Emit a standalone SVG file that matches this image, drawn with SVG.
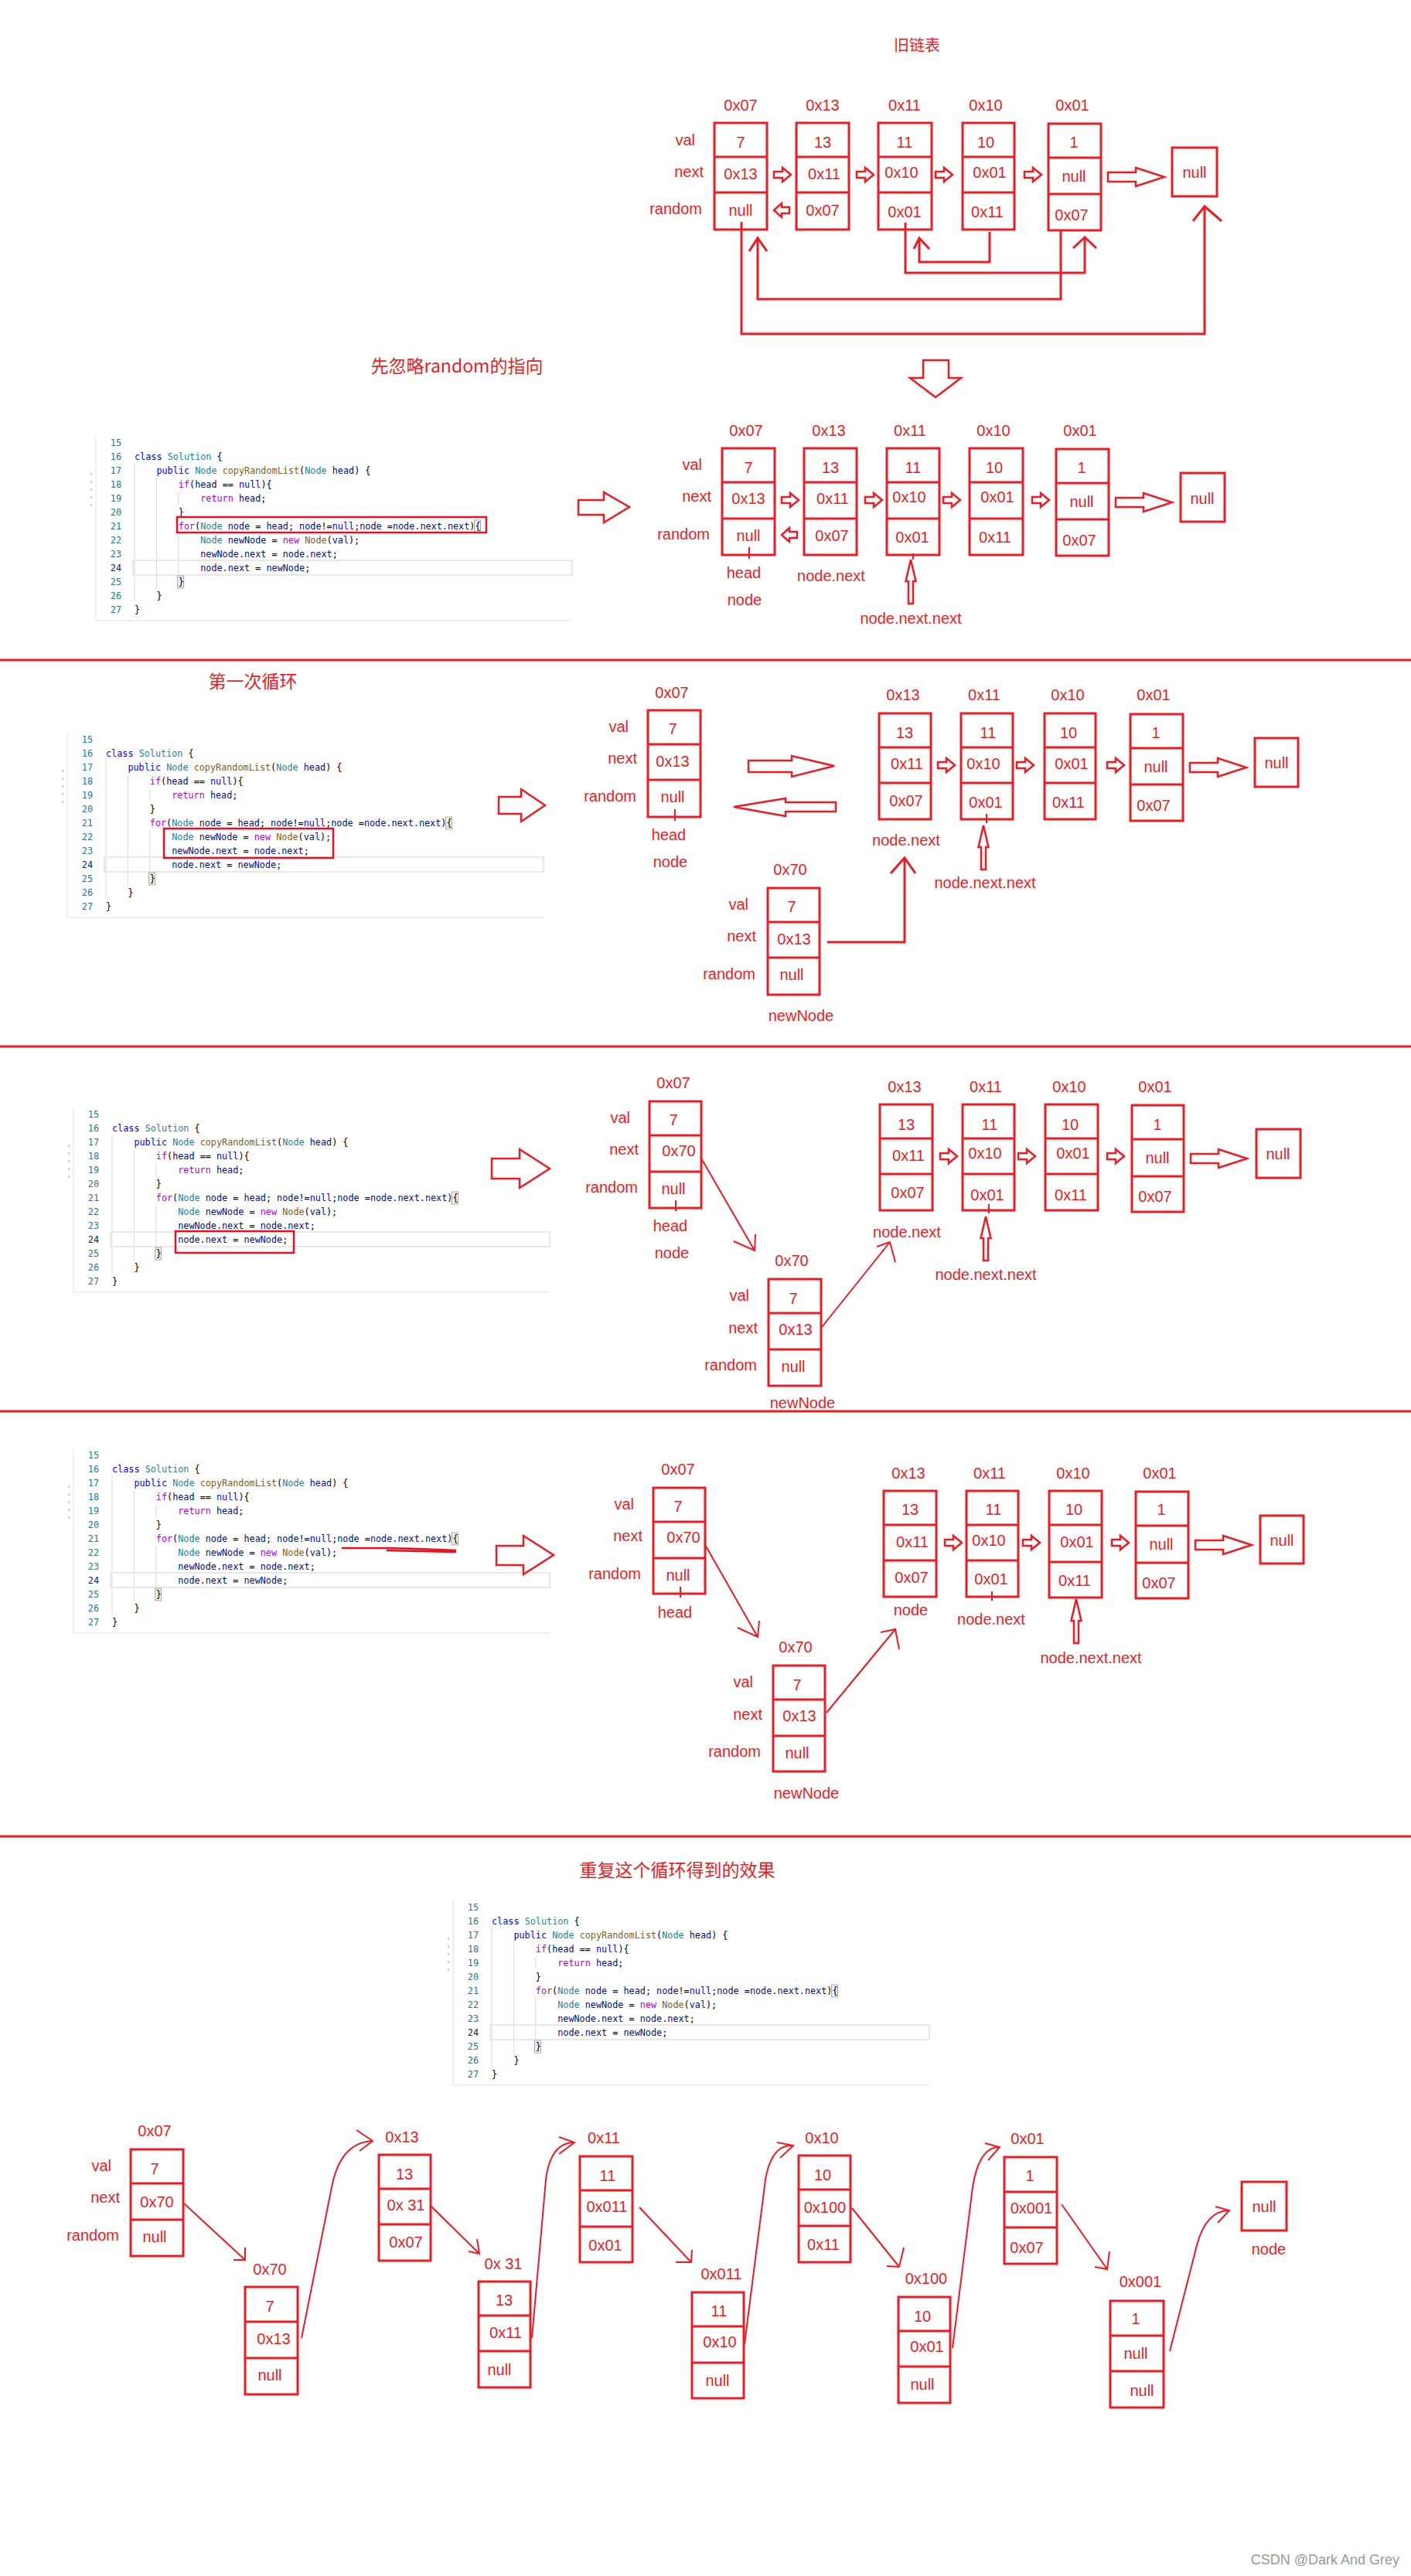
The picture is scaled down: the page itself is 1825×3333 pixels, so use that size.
<svg xmlns="http://www.w3.org/2000/svg" xmlns:xlink="http://www.w3.org/1999/xlink" width="1825" height="3333" viewBox="0 0 1825 3333">
<style>
.bx{fill:none;stroke:#ed1c24;stroke-width:3}
.ln{fill:none;stroke:#ed1c24;stroke-width:3}
.th{fill:none;stroke:#ed1c24;stroke-width:2}
.ar{fill:none;stroke:#ed1c24;stroke-width:2.5;stroke-linejoin:miter}
.sep{stroke:#ed1c24;stroke-width:3}
.t{font-family:"Liberation Sans","Noto Sans CJK SC",sans-serif;font-size:20px;fill:#ed1c24;text-anchor:middle}
.l{font-family:"Liberation Sans","Noto Sans CJK SC",sans-serif;font-size:20px;fill:#ed1c24;text-anchor:end}
.h{font-family:"Noto Sans CJK SC","Liberation Sans",sans-serif;font-size:23px;fill:#ed1c24;text-anchor:middle}
.c{font-family:"DejaVu Sans Mono","Liberation Mono",monospace;font-size:11.8px;fill:#001080}
.n{font-family:"DejaVu Sans Mono","Liberation Mono",monospace;font-size:11.8px;fill:#237893;text-anchor:end}
.kw{fill:#0000ff}.ty{fill:#267f99}.fn{fill:#795e26}.ct{fill:#af00db}.p{fill:#000}
</style>
<defs>
<path id="sa" class="ar" d="M0,-4H11V-9L22,0L11,9V4H0Z"/>
<path id="ba" class="ar" d="M0,-6H36V-12L73,0L36,12V6H0Z"/>
<path id="la" class="ar" d="M0,0L10,-9V-4H20V4H10V9Z"/>
<path id="ua" class="ar" d="M0,0L6.5,28H3V57H-3V28H-6.5Z"/>
<g id="code" xml:space="preserve">
<path d="M-50,-12V226H566" stroke="#ececec" stroke-width="1.5" fill="none"/>
<path d="M-56,35v3M-56,45v3M-56,55v3M-56,65v3M-56,75v3" stroke="#bbb" stroke-width="1.5"/>
<path d="M0,23V201M28.4,41V185M56.8,60V76M56.8,113V183" stroke="#d8d8d8" stroke-width="1"/>
<rect x="-2" y="148" width="568" height="19" fill="none" stroke="#e8e8e8" stroke-width="2"/>
<rect x="439.5" y="96" width="8" height="16" fill="#eee" stroke="#aaa" stroke-width="1"/>
<rect x="55.5" y="168" width="8" height="16" fill="#eee" stroke="#aaa" stroke-width="1"/>
<text class="n" x="-17" y="0">15</text>
<text class="n" x="-17" y="18">16</text>
<text class="n" x="-17" y="36">17</text>
<text class="n" x="-17" y="54">18</text>
<text class="n" x="-17" y="72">19</text>
<text class="n" x="-17" y="90">20</text>
<text class="n" x="-17" y="108">21</text>
<text class="n" x="-17" y="126">22</text>
<text class="n" x="-17" y="144">23</text>
<text class="n" x="-17" y="162" style="fill:#0b216f">24</text>
<text class="n" x="-17" y="180">25</text>
<text class="n" x="-17" y="198">26</text>
<text class="n" x="-17" y="216">27</text>
<text class="c" x="0" y="18"><tspan class="kw">class</tspan> <tspan class="ty">Solution</tspan> <tspan class="p">{</tspan></text>
<text class="c" x="28.4" y="36"><tspan class="kw">public</tspan> <tspan class="ty">Node</tspan> <tspan class="fn">copyRandomList</tspan><tspan class="p">(</tspan><tspan class="ty">Node</tspan> head<tspan class="p">) {</tspan></text>
<text class="c" x="56.8" y="54"><tspan class="ct">if</tspan><tspan class="p">(</tspan>head <tspan class="p">==</tspan> <tspan class="kw">null</tspan><tspan class="p">){</tspan></text>
<text class="c" x="85.2" y="72"><tspan class="ct">return</tspan> head<tspan class="p">;</tspan></text>
<text class="c p" x="56.8" y="90">}</text>
<text class="c" x="56.8" y="108"><tspan class="ct">for</tspan><tspan class="p">(</tspan><tspan class="ty">Node</tspan> node <tspan class="p">=</tspan> head<tspan class="p">;</tspan> node<tspan class="p">!=</tspan><tspan class="kw">null</tspan><tspan class="p">;</tspan>node <tspan class="p">=</tspan>node.next.next<tspan class="p">){</tspan></text>
<text class="c" x="85.2" y="126"><tspan class="ty">Node</tspan> newNode <tspan class="p">=</tspan> <tspan class="ct">new</tspan> <tspan class="fn">Node</tspan><tspan class="p">(</tspan>val<tspan class="p">);</tspan></text>
<text class="c" x="85.2" y="144">newNode.next <tspan class="p">=</tspan> node.next<tspan class="p">;</tspan></text>
<text class="c" x="85.2" y="162">node.next <tspan class="p">=</tspan> newNode<tspan class="p">;</tspan></text>
<text class="c p" x="56.8" y="180">}</text>
<text class="c p" x="28.4" y="198">}</text>
<text class="c p" x="0" y="216">}</text>
</g>
</defs>
<rect x="0" y="0" width="1825" height="3333" fill="#fff"/>

<g id="separators">
<line class="sep" x1="0" y1="854" x2="1825" y2="854"/>
<line class="sep" x1="0" y1="1354" x2="1825" y2="1354"/>
<line class="sep" x1="0" y1="1826" x2="1825" y2="1826"/>
<line class="sep" x1="0" y1="2376" x2="1825" y2="2376"/>
</g>

<!-- ===== Section 1 ===== -->
<g id="s1-title"><text class="t" x="1186" y="66">旧链表</text></g>
<g id="s1-rowlabels">
<text class="l" x="899" y="188">val</text>
<text class="l" x="910" y="229">next</text>
<text class="l" x="908" y="277">random</text>
</g>
<g id="s1-n1"><rect class="bx" x="924" y="159" width="68" height="138"/><path class="bx" d="M924,203H992M924,249H992"/>
<text class="t" x="958" y="143">0x07</text><text class="t" x="958" y="191">7</text><text class="t" x="958" y="232">0x13</text><text class="t" x="958" y="279">null</text></g>
<g id="s1-n2"><rect class="bx" x="1030" y="159" width="68" height="138"/><path class="bx" d="M1030,203H1098M1030,249H1098"/>
<text class="t" x="1064" y="143">0x13</text><text class="t" x="1064" y="191">13</text><text class="t" x="1066" y="232">0x11</text><text class="t" x="1064" y="279">0x07</text></g>
<g id="s1-n3"><rect class="bx" x="1136" y="159" width="69" height="138"/><path class="bx" d="M1136,203H1205M1136,249H1205"/>
<text class="t" x="1170" y="143">0x11</text><text class="t" x="1170" y="191">11</text><text class="t" x="1166" y="230">0x10</text><text class="t" x="1170" y="281">0x01</text></g>
<g id="s1-n4"><rect class="bx" x="1245" y="159" width="67" height="138"/><path class="bx" d="M1245,203H1312M1245,249H1312"/>
<text class="t" x="1275" y="143">0x10</text><text class="t" x="1275" y="191">10</text><text class="t" x="1280" y="230">0x01</text><text class="t" x="1277" y="281">0x11</text></g>
<g id="s1-n5"><rect class="bx" x="1356" y="160" width="68" height="138"/><path class="bx" d="M1356,204H1424M1356,251H1424"/>
<text class="t" x="1387" y="143">0x01</text><text class="t" x="1389" y="191">1</text><text class="t" x="1389" y="235">null</text><text class="t" x="1386" y="285">0x07</text></g>
<g id="s1-null"><rect class="bx" x="1516" y="191" width="58" height="63"/><text class="t" x="1545" y="230">null</text></g>
<g id="s1-down"><path class="ar" d="M1194,466H1227V489H1243L1210,514L1177,489H1194Z"/></g>

<!-- ===== Section 2 ===== -->
<g id="s2-title"><text class="h" x="591" y="482">先忽略random的指向</text></g>
<g id="s2-code"><use href="#code" x="174" y="577"/><rect x="229" y="669" width="400" height="20" fill="none" stroke="#e81123" stroke-width="2.5"/></g>
<g id="s2-rowlabels">
<text class="l" x="908" y="608">val</text>
<text class="l" x="920" y="649">next</text>
<text class="l" x="918" y="698">random</text>
</g>
<g id="s2-n1"><rect class="bx" x="934" y="580" width="68" height="138"/><path class="bx" d="M934,624H1002M934,671H1002"/>
<text class="t" x="965" y="564">0x07</text><text class="t" x="968" y="612">7</text><text class="t" x="968" y="652">0x13</text><text class="t" x="968" y="700">null</text></g>
<g id="s2-n2"><rect class="bx" x="1040" y="580" width="68" height="138"/><path class="bx" d="M1040,624H1108M1040,671H1108"/>
<text class="t" x="1072" y="564">0x13</text><text class="t" x="1074" y="612">13</text><text class="t" x="1077" y="652">0x11</text><text class="t" x="1076" y="700">0x07</text></g>
<g id="s2-n3"><rect class="bx" x="1147" y="580" width="68" height="138"/><path class="bx" d="M1147,624H1215M1147,671H1215"/>
<text class="t" x="1177" y="564">0x11</text><text class="t" x="1181" y="612">11</text><text class="t" x="1176" y="650">0x10</text><text class="t" x="1180" y="702">0x01</text></g>
<g id="s2-n4"><rect class="bx" x="1254" y="580" width="69" height="138"/><path class="bx" d="M1254,624H1323M1254,671H1323"/>
<text class="t" x="1285" y="564">0x10</text><text class="t" x="1286" y="612">10</text><text class="t" x="1290" y="650">0x01</text><text class="t" x="1287" y="702">0x11</text></g>
<g id="s2-n5"><rect class="bx" x="1366" y="581" width="68" height="138"/><path class="bx" d="M1366,625H1434M1366,672H1434"/>
<text class="t" x="1397" y="564">0x01</text><text class="t" x="1399" y="612">1</text><text class="t" x="1399" y="656">null</text><text class="t" x="1396" y="706">0x07</text></g>
<g id="s2-null"><rect class="bx" x="1527" y="612" width="57" height="63"/><text class="t" x="1555" y="652">null</text></g>
<g id="s2-pointers">
<text class="t" x="962" y="748">head</text>
<text class="t" x="963" y="783">node</text>
<text class="t" x="1075" y="752">node.next</text>
<text class="t" x="1178" y="807">node.next.next</text>
</g>

<!-- ===== Section 3 ===== -->
<g id="s3-title"><text class="h" x="327" y="890">第一次循环</text></g>
<g id="s3-code"><use href="#code" x="137" y="961"/><rect x="212" y="1072" width="219" height="38" fill="none" stroke="#e81123" stroke-width="2.5"/></g>
<g id="s3-head"><rect class="bx" x="838" y="919" width="68" height="138"/><path class="bx" d="M838,963H906M838,1009H906"/>
<text class="t" x="869" y="903">0x07</text><text class="t" x="870" y="950">7</text><text class="t" x="870" y="992">0x13</text><text class="t" x="870" y="1038">null</text>
<text class="l" x="813" y="947">val</text><text class="l" x="824" y="988">next</text><text class="l" x="823" y="1037">random</text>
<text class="t" x="865" y="1087">head</text><text class="t" x="867" y="1122">node</text></g>
<g id="s3-n2"><rect class="bx" x="1137" y="923" width="67" height="137"/><path class="bx" d="M1137,967H1204M1137,1013H1204"/>
<text class="t" x="1168" y="906">0x13</text><text class="t" x="1170" y="955">13</text><text class="t" x="1173" y="995">0x11</text><text class="t" x="1172" y="1043">0x07</text></g>
<g id="s3-n3"><rect class="bx" x="1243" y="923" width="67" height="137"/><path class="bx" d="M1243,967H1310M1243,1013H1310"/>
<text class="t" x="1273" y="906">0x11</text><text class="t" x="1278" y="955">11</text><text class="t" x="1272" y="995">0x10</text><text class="t" x="1275" y="1045">0x01</text></g>
<g id="s3-n4"><rect class="bx" x="1351" y="923" width="66" height="137"/><path class="bx" d="M1351,967H1417M1351,1013H1417"/>
<text class="t" x="1381" y="906">0x10</text><text class="t" x="1382" y="955">10</text><text class="t" x="1386" y="995">0x01</text><text class="t" x="1382" y="1045">0x11</text></g>
<g id="s3-n5"><rect class="bx" x="1462" y="924" width="68" height="138"/><path class="bx" d="M1462,968H1530M1462,1015H1530"/>
<text class="t" x="1492" y="906">0x01</text><text class="t" x="1495" y="955">1</text><text class="t" x="1495" y="999">null</text><text class="t" x="1492" y="1049">0x07</text></g>
<g id="s3-null"><rect class="bx" x="1623" y="955" width="56" height="63"/><text class="t" x="1651" y="994">null</text></g>
<g id="s3-new"><rect class="bx" x="993" y="1149" width="67" height="138"/><path class="bx" d="M993,1193H1060M993,1239H1060"/>
<text class="t" x="1022" y="1132">0x70</text><text class="t" x="1024" y="1180">7</text><text class="t" x="1027" y="1222">0x13</text><text class="t" x="1024" y="1268">null</text>
<text class="l" x="968" y="1177">val</text><text class="l" x="978" y="1218">next</text><text class="l" x="977" y="1267">random</text>
<text class="t" x="1036" y="1321">newNode</text></g>
<g id="s3-pointers"><text class="t" x="1172" y="1094">node.next</text><text class="t" x="1274" y="1149">node.next.next</text></g>

<!-- ===== Section 4 ===== -->
<g id="s4-code"><use href="#code" x="145" y="1446"/><rect x="227" y="1593" width="153" height="28" fill="none" stroke="#e81123" stroke-width="2.5"/></g>
<g id="s4-head"><rect class="bx" x="840" y="1425" width="67" height="138"/><path class="bx" d="M840,1469H907M840,1516H907"/>
<text class="t" x="871" y="1408">0x07</text><text class="t" x="871" y="1456">7</text><text class="t" x="878" y="1496">0x70</text><text class="t" x="871" y="1545">null</text>
<text class="l" x="815" y="1453">val</text><text class="l" x="826" y="1494">next</text><text class="l" x="825" y="1543">random</text>
<text class="t" x="867" y="1593">head</text><text class="t" x="869" y="1628">node</text></g>
<g id="s4-new"><rect class="bx" x="994" y="1655" width="68" height="138"/><path class="bx" d="M994,1699H1062M994,1746H1062"/>
<text class="t" x="1024" y="1638">0x70</text><text class="t" x="1026" y="1687">7</text><text class="t" x="1029" y="1727">0x13</text><text class="t" x="1026" y="1775">null</text>
<text class="l" x="969" y="1683">val</text><text class="l" x="980" y="1725">next</text><text class="l" x="979" y="1773">random</text>
<text class="t" x="1038" y="1822">newNode</text></g>
<g id="s4-n2"><rect class="bx" x="1138" y="1429" width="68" height="137"/><path class="bx" d="M1138,1473H1206M1138,1519H1206"/>
<text class="t" x="1170" y="1413">0x13</text><text class="t" x="1172" y="1462">13</text><text class="t" x="1175" y="1502">0x11</text><text class="t" x="1174" y="1550">0x07</text></g>
<g id="s4-n3"><rect class="bx" x="1245" y="1429" width="67" height="137"/><path class="bx" d="M1245,1473H1312M1245,1519H1312"/>
<text class="t" x="1275" y="1413">0x11</text><text class="t" x="1280" y="1462">11</text><text class="t" x="1274" y="1499">0x10</text><text class="t" x="1277" y="1553">0x01</text></g>
<g id="s4-n4"><rect class="bx" x="1352" y="1429" width="68" height="137"/><path class="bx" d="M1352,1473H1420M1352,1519H1420"/>
<text class="t" x="1383" y="1413">0x10</text><text class="t" x="1384" y="1462">10</text><text class="t" x="1388" y="1499">0x01</text><text class="t" x="1385" y="1553">0x11</text></g>
<g id="s4-n5"><rect class="bx" x="1464" y="1430" width="67" height="138"/><path class="bx" d="M1464,1474H1531M1464,1522H1531"/>
<text class="t" x="1494" y="1413">0x01</text><text class="t" x="1497" y="1462">1</text><text class="t" x="1497" y="1505">null</text><text class="t" x="1494" y="1555">0x07</text></g>
<g id="s4-null"><rect class="bx" x="1625" y="1461" width="57" height="63"/><text class="t" x="1653" y="1500">null</text></g>
<g id="s4-pointers"><text class="t" x="1173" y="1601">node.next</text><text class="t" x="1275" y="1656">node.next.next</text></g>

<!-- ===== Section 5 ===== -->
<g id="s5-code"><use href="#code" x="145" y="1887"/><path d="M442,2003L500,2003L540,2004L590,2006M500,2006L590,2008" fill="none" stroke="#e81123" stroke-width="2.5"/></g>
<g id="s5-head"><rect class="bx" x="845" y="1925" width="67" height="137"/><path class="bx" d="M845,1969H912M845,2016H912"/>
<text class="t" x="877" y="1908">0x07</text><text class="t" x="877" y="1956">7</text><text class="t" x="884" y="1996">0x70</text><text class="t" x="877" y="2045">null</text>
<text class="l" x="820" y="1953">val</text><text class="l" x="831" y="1994">next</text><text class="l" x="829" y="2043">random</text>
<text class="t" x="873" y="2093">head</text></g>
<g id="s5-new"><rect class="bx" x="1000" y="2155" width="67" height="137"/><path class="bx" d="M1000,2199H1067M1000,2246H1067"/>
<text class="t" x="1029" y="2138">0x70</text><text class="t" x="1031" y="2187">7</text><text class="t" x="1034" y="2227">0x13</text><text class="t" x="1031" y="2275">null</text>
<text class="l" x="974" y="2183">val</text><text class="l" x="986" y="2225">next</text><text class="l" x="984" y="2273">random</text>
<text class="t" x="1043" y="2327">newNode</text></g>
<g id="s5-n2"><rect class="bx" x="1143" y="1929" width="68" height="137"/><path class="bx" d="M1143,1973H1211M1143,2019H1211"/>
<text class="t" x="1175" y="1913">0x13</text><text class="t" x="1177" y="1960">13</text><text class="t" x="1180" y="2002">0x11</text><text class="t" x="1179" y="2048">0x07</text></g>
<g id="s5-n3"><rect class="bx" x="1250" y="1929" width="67" height="137"/><path class="bx" d="M1250,1973H1317M1250,2019H1317"/>
<text class="t" x="1280" y="1913">0x11</text><text class="t" x="1285" y="1960">11</text><text class="t" x="1279" y="2000">0x10</text><text class="t" x="1282" y="2050">0x01</text></g>
<g id="s5-n4"><rect class="bx" x="1357" y="1929" width="68" height="138"/><path class="bx" d="M1357,1973H1425M1357,2021H1425"/>
<text class="t" x="1388" y="1913">0x10</text><text class="t" x="1389" y="1960">10</text><text class="t" x="1393" y="2002">0x01</text><text class="t" x="1390" y="2052">0x11</text></g>
<g id="s5-n5"><rect class="bx" x="1469" y="1930" width="68" height="138"/><path class="bx" d="M1469,1974H1537M1469,2022H1537"/>
<text class="t" x="1500" y="1913">0x01</text><text class="t" x="1502" y="1960">1</text><text class="t" x="1502" y="2005">null</text><text class="t" x="1499" y="2055">0x07</text></g>
<g id="s5-null"><rect class="bx" x="1630" y="1961" width="56" height="62"/><text class="t" x="1658" y="2000">null</text></g>
<g id="s5-pointers"><text class="t" x="1178" y="2090">node</text><text class="t" x="1282" y="2102">node.next</text><text class="t" x="1411" y="2152">node.next.next</text></g>

<!-- ===== Section 6 ===== -->
<g id="s6-title"><text class="h" x="876" y="2428">重复这个循环得到的效果</text></g>
<g id="s6-code"><use href="#code" x="636" y="2472"/></g>
<g id="s6-n1"><rect class="bx" x="169" y="2781" width="68" height="138"/><path class="bx" d="M169,2825H237M169,2872H237"/>
<text class="t" x="200" y="2764">0x07</text><text class="t" x="200" y="2813">7</text><text class="t" x="203" y="2856">0x70</text><text class="t" x="200" y="2901">null</text>
<text class="l" x="144" y="2809">val</text><text class="l" x="155" y="2850">next</text><text class="l" x="154" y="2899">random</text></g>
<g id="s6-n2"><rect class="bx" x="317" y="2959" width="68" height="139"/><path class="bx" d="M317,3004H385M317,3051H385"/>
<text class="t" x="349" y="2943">0x70</text><text class="t" x="349" y="2991">7</text><text class="t" x="354" y="3033">0x13</text><text class="t" x="349" y="3080">null</text></g>
<g id="s6-n3"><rect class="bx" x="490" y="2788" width="67" height="137"/><path class="bx" d="M490,2832H557M490,2878H557"/>
<text class="t" x="520" y="2772">0x13</text><text class="t" x="523" y="2820">13</text><text class="t" x="525" y="2860">0x 31</text><text class="t" x="525" y="2908">0x07</text></g>
<g id="s6-n4"><rect class="bx" x="619" y="2952" width="67" height="137"/><path class="bx" d="M619,2996H686M619,3042H686"/>
<text class="t" x="651" y="2936">0x 31</text><text class="t" x="652" y="2983">13</text><text class="t" x="654" y="3025">0x11</text><text class="t" x="646" y="3073">null</text></g>
<g id="s6-n5"><rect class="bx" x="750" y="2790" width="68" height="137"/><path class="bx" d="M750,2834H818M750,2881H818"/>
<text class="t" x="781" y="2773">0x11</text><text class="t" x="786" y="2822">11</text><text class="t" x="785" y="2862">0x011</text><text class="t" x="783" y="2912">0x01</text></g>
<g id="s6-n6"><rect class="bx" x="895" y="2966" width="67" height="137"/><path class="bx" d="M895,3010H962M895,3057H962"/>
<text class="t" x="933" y="2949">0x011</text><text class="t" x="930" y="2997">11</text><text class="t" x="931" y="3037">0x10</text><text class="t" x="928" y="3087">null</text></g>
<g id="s6-n7"><rect class="bx" x="1033" y="2789" width="67" height="138"/><path class="bx" d="M1033,2833H1100M1033,2880H1100"/>
<text class="t" x="1063" y="2773">0x10</text><text class="t" x="1064" y="2821">10</text><text class="t" x="1067" y="2863">0x100</text><text class="t" x="1065" y="2911">0x11</text></g>
<g id="s6-n8"><rect class="bx" x="1162" y="2972" width="67" height="137"/><path class="bx" d="M1162,3016H1229M1162,3062H1229"/>
<text class="t" x="1198" y="2955">0x100</text><text class="t" x="1193" y="3004">10</text><text class="t" x="1199" y="3043">0x01</text><text class="t" x="1193" y="3092">null</text></g>
<g id="s6-n9"><rect class="bx" x="1299" y="2791" width="68" height="138"/><path class="bx" d="M1299,2836H1367M1299,2882H1367"/>
<text class="t" x="1329" y="2774">0x01</text><text class="t" x="1332" y="2822">1</text><text class="t" x="1334" y="2864">0x001</text><text class="t" x="1328" y="2915">0x07</text></g>
<g id="s6-n10"><rect class="bx" x="1436" y="2977" width="69" height="138"/><path class="bx" d="M1436,3022H1505M1436,3068H1505"/>
<text class="t" x="1475" y="2959">0x001</text><text class="t" x="1469" y="3007">1</text><text class="t" x="1469" y="3052">null</text><text class="t" x="1477" y="3100">null</text></g>
<g id="s6-null"><rect class="bx" x="1606" y="2823" width="58" height="63"/><text class="t" x="1635" y="2862">null</text><text class="t" x="1641" y="2917">node</text></g>

<!-- ===== Connectors ===== -->
<g id="connectors">
<use href="#sa" x="1001" y="226"/><use href="#sa" x="1108" y="226"/><use href="#sa" x="1210" y="226"/><use href="#sa" x="1325" y="226"/>
<use href="#ba" x="1433" y="229"/>
<use href="#la" x="1001" y="272"/>
<path class="ln" d="M1171,288V353H1403V309M1388,321L1403,307L1418,321"/>
<path class="ln" d="M1280,300V339H1189V309M1182,322L1189,308L1202,322"/>
<path class="ln" d="M1372,298V387H980V309M969,325L980,308L992,325"/>
<path class="ln" d="M959,287V432H1558V268M1543,286L1558,267L1580,286"/>
<path class="ar" d="M748,647H781V637L814,656L781,676V666H748Z"/>
<use href="#sa" x="1011" y="647"/><use href="#sa" x="1119" y="647"/><use href="#sa" x="1220" y="647"/><use href="#sa" x="1335" y="647"/>
<use href="#ba" x="1443" y="650"/>
<use href="#la" x="1011" y="692"/>
<use href="#ua" x="1178" y="724"/>
<path class="th" d="M969,708V723M1181,716V724"/>
<path class="ar" d="M645,1031H674V1021L705,1042L674,1063V1053H645Z"/>
<path class="ar" d="M968,984H1024V978L1079,991L1024,1005V999H968Z"/>
<path class="ar" d="M949,1044L1016,1033V1038H1081V1050H1016V1056Z"/>
<use href="#sa" x="1213" y="990"/><use href="#sa" x="1315" y="990"/><use href="#sa" x="1432" y="990"/>
<use href="#ba" x="1539" y="993"/>
<use href="#ua" x="1272" y="1068"/>
<path class="th" d="M873,1047V1062M1276,1053V1065"/>
<path class="ln" d="M1070,1219H1170V1112M1152,1130L1170,1110L1184,1130"/>
<path class="ar" d="M636,1499H672V1487L711,1512L672,1537V1525H636Z"/>
<path class="th" d="M906,1497L976,1618M949,1606L976,1618L977,1597"/>
<path class="th" d="M1063,1717L1151,1607M1134,1613L1151,1607L1158,1633"/>
<use href="#sa" x="1216" y="1496"/><use href="#sa" x="1317" y="1496"/><use href="#sa" x="1432" y="1496"/>
<use href="#ba" x="1540" y="1499"/>
<use href="#ua" x="1275" y="1574"/>
<path class="th" d="M874,1553V1567M1279,1558V1570"/>
<path class="ar" d="M642,2000H677V1987L716,2012L677,2037V2025H642Z"/>
<path class="th" d="M911,1997L980,2118M954,2106L980,2118L982,2097"/>
<path class="th" d="M1069,2216L1158,2108M1139,2112L1158,2108L1163,2134"/>
<use href="#sa" x="1222" y="1996"/><use href="#sa" x="1323" y="1996"/><use href="#sa" x="1438" y="1996"/>
<use href="#ba" x="1546" y="1999"/>
<use href="#ua" x="1392" y="2069"/>
<path class="th" d="M880,2053V2067M1283,2059V2071"/>
<path class="th" d="M238,2851L317,2924M302,2924H317V2908"/>
<path class="th" d="M390,3025L429,2830Q440,2772 482,2770M461,2756L482,2770L465,2783"/>
<path class="th" d="M558,2855L620,2916M606,2913L620,2916L617,2897"/>
<path class="th" d="M688,3025L706,2820Q712,2772 743,2772M723,2765L743,2772L723,2787"/>
<path class="th" d="M827,2856L894,2927M874,2927H894L895,2911"/>
<path class="th" d="M963,3033L990,2820Q998,2774 1026,2776M1005,2772L1026,2776L1009,2792"/>
<path class="th" d="M1102,2857L1163,2933M1147,2932L1163,2933L1169,2908"/>
<path class="th" d="M1232,3038L1258,2830Q1266,2778 1293,2778M1274,2773L1293,2778L1278,2795"/>
<path class="th" d="M1373,2852L1432,2936M1416,2933L1432,2936L1435,2913"/>
<path class="th" d="M1513,3042L1548,2905Q1560,2860 1590,2860M1572,2855L1590,2860L1575,2876"/>
</g>

<g id="watermark"><text x="1810" y="3318" style="font-family:'Liberation Sans',sans-serif;font-size:18px;fill:#999;text-anchor:end">CSDN @Dark And Grey</text></g>
</svg>
